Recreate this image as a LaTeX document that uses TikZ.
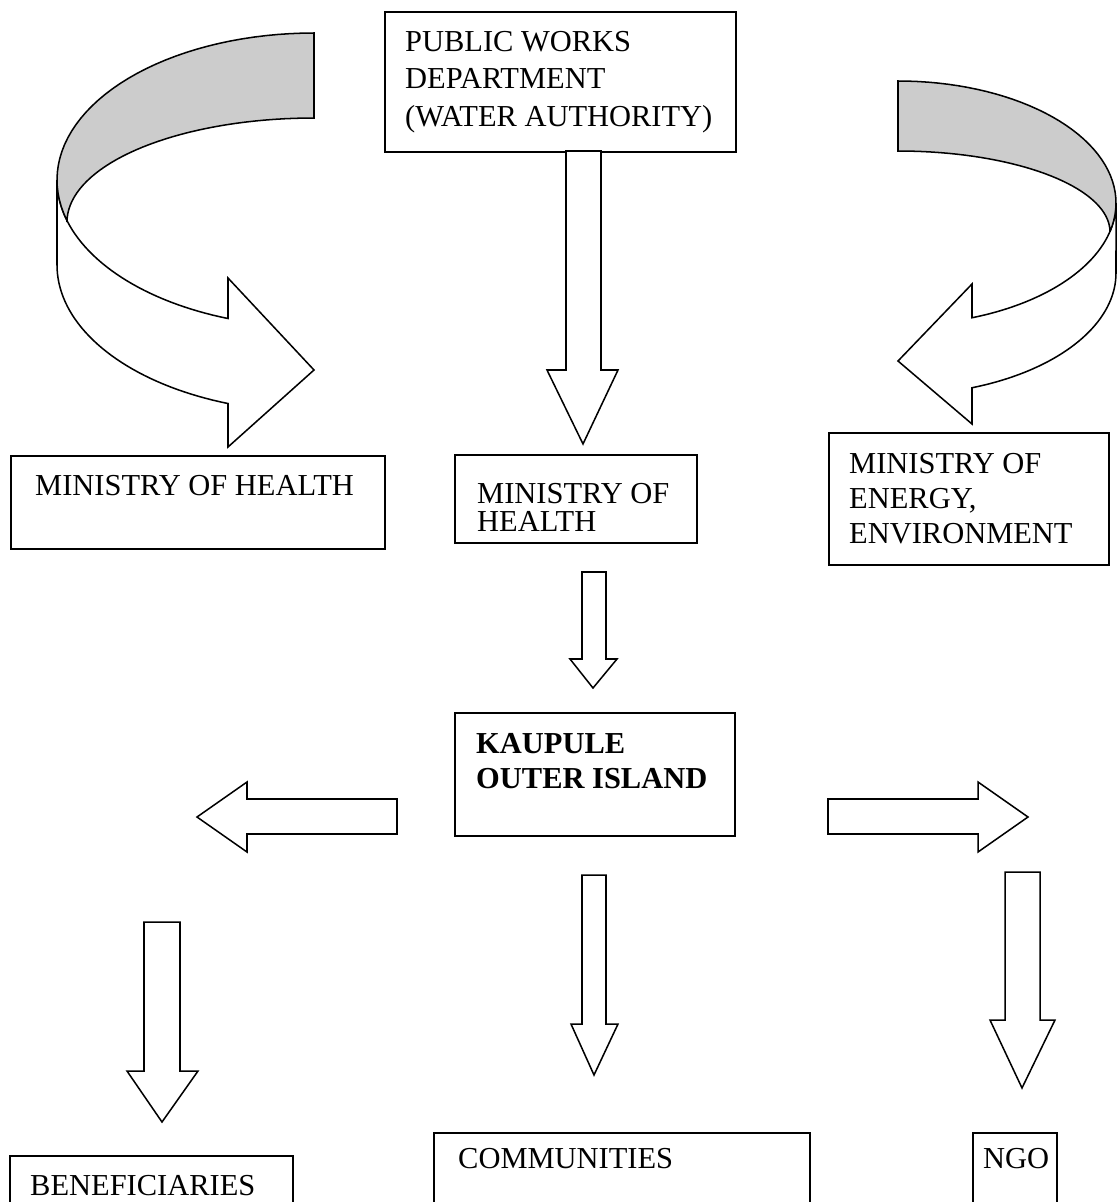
\documentclass[tikz,border=0pt]{standalone}
\usepackage{fontspec}
\setmainfont{Liberation Serif}

\begin{document}
\begin{tikzpicture}[
    x=0.03cm, y=-0.03cm,
    box/.style={rectangle, draw, line width=1.3pt, inner sep=0pt, anchor=north west},
    boxtext/.style={anchor=north west, inner sep=0pt, align=left, font=\fontsize{26}{30}\selectfont},
    fat/.style={draw, fill=white, line width=1.3pt},
    band/.style={fat, fill=gray!40}
]
    \useasboundingbox (0,0) rectangle (1117,1202);
    \clip (0,0) rectangle (1117,1202);

    % Boxes
    \node[box, minimum width=10.53cm, minimum height=4.2cm] (pwd) at (384,11) {};
    \node[boxtext, font=\fontsize{26}{32}\selectfont] (pwd_text) at ([shift={(21,20)}]pwd.north west) {PUBLIC WORKS\\DEPARTMENT\\(WATER AUTHORITY)};

    \node[box, minimum width=11.22cm, minimum height=2.79cm] (health_left) at (10,455) {};
    \node[boxtext] (health_left_text) at ([shift={(25,20)}]health_left.north west) {MINISTRY OF HEALTH};

    \node[box, minimum width=7.26cm, minimum height=2.64cm] (health) at (454,454) {};
    \node[boxtext, font=\fontsize{26}{24}\selectfont] (health_text) at ([shift={(23,29)}]health.north west) {MINISTRY OF\\HEALTH};

    \node[box, minimum width=8.4cm, minimum height=3.96cm] (energy) at (828,432) {};
    \node[boxtext] (energy_text) at ([shift={(21,21)}]energy.north west) {MINISTRY OF\\ENERGY,\\ENVIRONMENT};

    \node[box, minimum width=8.4cm, minimum height=3.69cm] (kaupule) at (454,712) {};
    \node[boxtext] (kaupule_text) at ([shift={(22,21)}]kaupule.north west) {\textbf{KAUPULE}\\\textbf{OUTER ISLAND}};

    \node[box, minimum width=8.49cm, minimum height=2.1cm] (benef) at (9,1155) {};
    \node[boxtext] (benef_text) at ([shift={(21,20)}]benef.north west) {BENEFICIARIES};

    \node[box, minimum width=11.28cm, minimum height=2.49cm] (comm) at (433,1132) {};
    \node[boxtext] (comm_text) at ([shift={(25,16)}]comm.north west) {COMMUNITIES};

    \node[box, minimum width=2.52cm, minimum height=2.49cm] (ngo) at (972,1132) {};
    \node[boxtext] (ngo_text) at ([shift={(11,16)}]ngo.north west) {NGO};

    % Curved arrow on the left
    \draw[fat] plot[domain=180:250.45, samples=40] ({314+257*cos(\x)}, {180-147*sin(\x)})
        -- (228,278) -- (314,370) -- (228,447)
        -- plot[domain=250.45:180, samples=40] ({314+257*cos(\x)}, {265-147*sin(\x)}) -- cycle;
    \draw[band] plot[domain=90:196, samples=40] ({314+257*cos(\x)}, {180-147*sin(\x)})
        -- plot[domain=180:90, samples=40] ({314+247*cos(\x)}, {222-104*sin(\x)}) -- cycle;

    % Curved arrow on the right
    \draw[fat] plot[domain=0:-70.16, samples=40] ({898+218*cos(\x)}, {203-122*sin(\x)})
        -- (972,284) -- (898,361) -- (972,424)
        -- plot[domain=-70.16:0, samples=40] ({898+218*cos(\x)}, {273-122*sin(\x)}) -- cycle;
    \draw[band] plot[domain=90:-13.5, samples=40] ({898+218*cos(\x)}, {203-122*sin(\x)})
        -- plot[domain=0:90, samples=40] ({898+212*cos(\x)}, {232-81*sin(\x)}) -- cycle;

    % Straight arrows
    \draw[fat] (566,151) -- (566,370) -- (547,370) -- (583,444) -- (618,370) -- (601,370) -- (601,151) -- cycle;
    \draw[fat] (582,572) -- (582,659) -- (570,659) -- (593,688) -- (617,659) -- (606,659) -- (606,572) -- cycle;
    \draw[fat] (397,799) -- (247,799) -- (247,782) -- (197,817) -- (247,852) -- (247,834) -- (397,834) -- cycle;
    \draw[fat] (828,799) -- (978,799) -- (978,782) -- (1028,817) -- (978,852) -- (978,834) -- (828,834) -- cycle;
    \draw[fat] (144,922) -- (144,1071) -- (127,1071) -- (162,1122) -- (198,1071) -- (180,1071) -- (180,922) -- cycle;
    \draw[fat] (582,875) -- (582,1024) -- (571,1024) -- (594,1075) -- (618,1024) -- (606,1024) -- (606,875) -- cycle;
    \draw[fat] (1005,872) -- (1005,1020) -- (990,1020) -- (1022,1088) -- (1055,1020) -- (1040,1020) -- (1040,872) -- cycle;
\end{tikzpicture}
\end{document}
